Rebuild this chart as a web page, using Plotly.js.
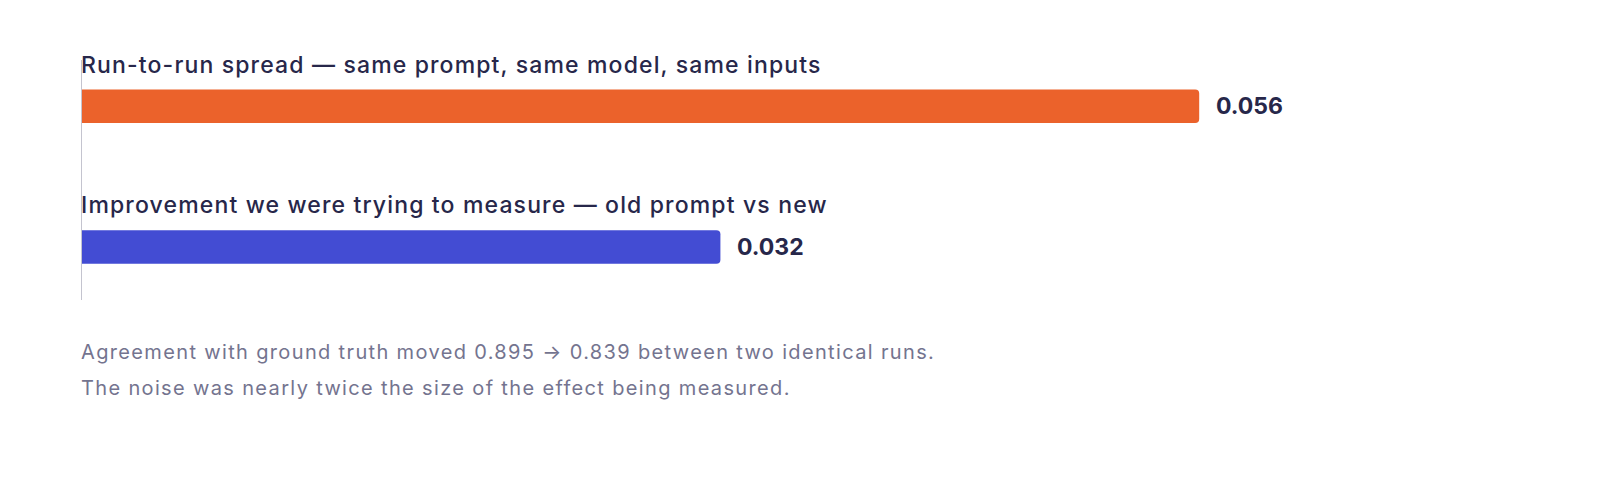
<!DOCTYPE html>
<html>
<head>
<meta charset="utf-8">
<script src="https://cdn.plot.ly/plotly-3.0.1.min.js"></script>
<style>
	html, body { margin: 0; padding: 0; background: #fff; }
	#plot { width: 1600px; height: 480px; }
</style>
</head>
<body>
<div id="plot"></div>
<script>
const categories = [
	"Run-to-run spread — same prompt, same model, same inputs",
	"Improvement we were trying to measure — old prompt vs new",
];
const values = [0.056, 0.032];
const valueLabels = ["0.056", "0.032"];
const barColors = ["#eb622b", "#434cd3"];
const captionLines = [
	"Agreement with ground truth moved 0.895 → 0.839 between two identical runs.",
	"The noise was nearly twice the size of the effect being measured.",
];

const FONT = "Inter, 'Liberation Sans', Arial, sans-serif";
const INK = "#27274a";
const MUTED = "#74748f";

const plotDiv = document.getElementById("plot");

// bars sit on numeric rows so the gap between them can be set freely
const positions = categories.map((c, i) => i);

const spaced = (s, px) => `<span style="letter-spacing:${px}px">${s}</span>`;

const data = [
	{
		type: "bar",
		orientation: "h",
		x: values,
		y: positions,
		width: 0.238,
		marker: { color: barColors, cornerradius: 4 },
		hoverinfo: "skip",
	},
];

const annotations = [];
categories.forEach((c, i) => {
	annotations.push({
		xref: "x",
		yref: "y",
		x: 0,
		y: positions[i],
		xanchor: "left",
		yanchor: "middle",
		xshift: -3,
		yshift: 41.5,
		showarrow: false,
		text: spaced(c, 1.15),
		font: { family: FONT, size: 23, color: INK, weight: 500 },
	});
	annotations.push({
		xref: "x",
		yref: "y",
		x: values[i],
		y: positions[i],
		xanchor: "left",
		yanchor: "middle",
		xshift: 15,
		showarrow: false,
		text: valueLabels[i],
		font: { family: FONT, size: 23, color: INK, weight: 700 },
	});
});

captionLines.forEach((line, i) => {
	annotations.push({
		xref: "paper",
		yref: "paper",
		x: 0,
		y: -0.215 - i * 0.15,
		xanchor: "left",
		yanchor: "middle",
		xshift: -3,
		showarrow: false,
		text: spaced(line, 1.35),
		font: { family: FONT, size: 20, color: MUTED, weight: 400 },
	});
});

const layout = {
	width: 1600,
	height: 480,
	margin: { l: 82, r: 80, t: 60, b: 180 },
	paper_bgcolor: "#fff",
	plot_bgcolor: "#fff",
	showlegend: false,
	hovermode: false,
	xaxis: {
		range: [0, 0.07208],
		showgrid: false,
		zeroline: false,
		showticklabels: false,
		showline: false,
		fixedrange: true,
	},
	yaxis: {
		range: [1.377, -0.329],
		showgrid: false,
		zeroline: false,
		showticklabels: false,
		showline: true,
		linecolor: "#c4c4cf",
		linewidth: 1.5,
		fixedrange: true,
	},
	annotations,
};

Plotly.newPlot(plotDiv, data, layout, { displayModeBar: false, staticPlot: true });
</script>
</body>
</html>
